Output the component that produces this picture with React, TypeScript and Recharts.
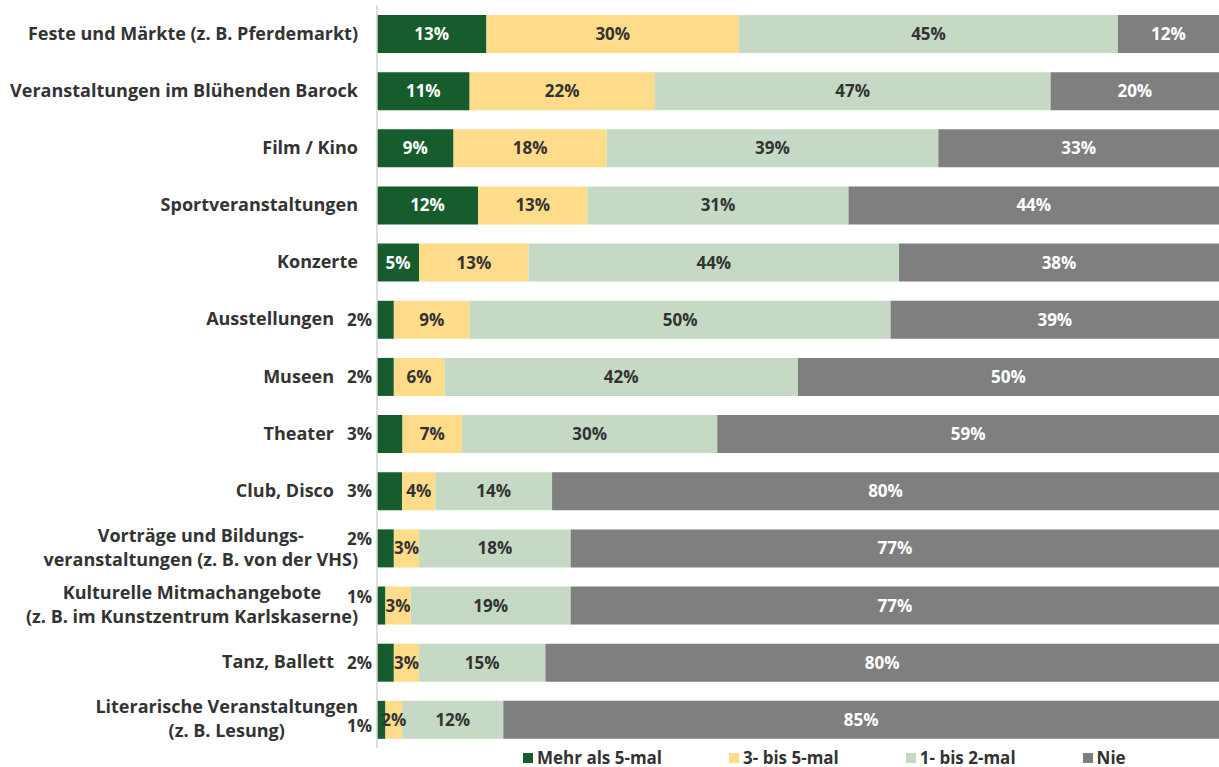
import { BarChart, Bar, XAxis, YAxis, Legend, LabelList } from 'recharts';

// ─── Data ────────────────────────────────────────────────────────────────────

const categories = [
  'Feste und Märkte (z. B. Pferdemarkt)',
  'Veranstaltungen im Blühenden Barock',
  'Film / Kino',
  'Sportveranstaltungen',
  'Konzerte',
  'Ausstellungen',
  'Museen',
  'Theater',
  'Club, Disco',
  'Vorträge und Bildungs-\nveranstaltungen (z. B. von der VHS)',
  'Kulturelle Mitmachangebote\n(z. B. im Kunstzentrum Karlskaserne)',
  'Tanz, Ballett',
  'Literarische Veranstaltungen\n(z. B. Lesung)',
];

const mehrAls5 = [13, 11, 9, 12, 5, 2, 2, 3, 3, 2, 1, 2, 1];
const dreiBis5 = [30, 22, 18, 13, 13, 9, 6, 7, 4, 3, 3, 3, 2];
const einBis2 = [45, 47, 39, 31, 44, 50, 42, 30, 14, 18, 19, 15, 12];
const nie = [12, 20, 33, 44, 38, 39, 50, 59, 80, 77, 77, 80, 85];

const seriesNames = ['Mehr als 5-mal', '3- bis 5-mal', '1- bis 2-mal', 'Nie'];
const seriesValues = [mehrAls5, dreiBis5, einBis2, nie];

// ─── Style ───────────────────────────────────────────────────────────────────

const COLORS = ['#165c2d', '#fedc8a', '#c5d9c5', '#7f7f7f'];
const LABEL_COLORS = ['#ffffff', '#333333', '#333333', '#ffffff'];
const FONT = '"Open Sans", sans-serif';
const TEXT = '#333333';
const AXIS_X = 377;
const OUTSIDE_LIMIT = 5;
const CAT_SIZE = 18;
const VAL_SIZE = 17;

const rows = categories.map((name, i) => ({
  name,
  s0: mehrAls5[i],
  s1: dreiBis5[i],
  s2: einBis2[i],
  s3: nie[i],
}));

let measureCtx: CanvasRenderingContext2D | null = null;
function textWidth(t: string, size: number) {
  if (!measureCtx) measureCtx = document.createElement('canvas').getContext('2d');
  if (!measureCtx) return t.length * size * 0.6;
  measureCtx.font = `bold ${size}px "Open Sans"`;
  return measureCtx.measureText(t).width;
}

// ─── Category tick ───────────────────────────────────────────────────────────

function CategoryTick(props: any) {
  const { y, payload, index } = props;
  const lines = String(payload.value).split('\n');
  const hasOutside = mehrAls5[index] < OUTSIDE_LIMIT;
  if (lines.length === 1) {
    const right = hasOutside ? AXIS_X - 43 : AXIS_X - 19;
    return (
      <text x={right} y={y} dy={6} textAnchor="end" fontFamily={FONT} fontWeight={700} fontSize={CAT_SIZE} fill={TEXT}>
        {lines[0]}
      </text>
    );
  }
  const maxW = Math.max(...lines.map((l) => textWidth(l, CAT_SIZE)));
  const cx = AXIS_X - 19 - maxW / 2;
  const lh = 24;
  const top = y - ((lines.length - 1) * lh) / 2;
  return (
    <g>
      {lines.map((l, i) => (
        <text key={i} x={cx} y={top + i * lh} dy={6} textAnchor="middle" fontFamily={FONT} fontWeight={700} fontSize={CAT_SIZE} fill={TEXT}>
          {l}
        </text>
      ))}
    </g>
  );
}

// ─── Value labels ────────────────────────────────────────────────────────────

function makeLabel(series: number) {
  return function SegmentLabel(props: any) {
    const { x, y, width, height, index } = props;
    const value = seriesValues[series][index];
    const cy = Number(y) + Number(height) / 2;
    if (series === 0 && value < OUTSIDE_LIMIT) {
      // push the outside label away from the longer line of a two-line category
      const lines = categories[index].split('\n');
      let shift = 0;
      if (lines.length > 1) {
        shift = textWidth(lines[0], CAT_SIZE) > textWidth(lines[1], CAT_SIZE) ? 6 : -9;
      }
      return (
        <text x={AXIS_X - 5} y={cy + shift} dy={6} textAnchor="end" fontFamily={FONT} fontWeight={700} fontSize={VAL_SIZE} fill={TEXT}>
          {`${value}%`}
        </text>
      );
    }
    return (
      <text
        x={Number(x) + Number(width) / 2}
        y={cy}
        dy={6}
        textAnchor="middle"
        fontFamily={FONT}
        fontWeight={700}
        fontSize={VAL_SIZE}
        fill={LABEL_COLORS[series]}
      >
        {`${value}%`}
      </text>
    );
  };
}

// ─── Legend ──────────────────────────────────────────────────────────────────

function ChartLegend() {
  return (
    <div
      style={{
        display: 'flex',
        paddingLeft: 523,
        gap: 67,
        fontFamily: FONT,
        fontWeight: 700,
        fontSize: 17,
        color: TEXT,
        lineHeight: '19px',
      }}
    >
      {seriesNames.map((n, i) => (
        <div key={n} style={{ display: 'flex', alignItems: 'center', gap: 4 }}>
          <span style={{ width: 10, height: 10, background: COLORS[i], display: 'inline-block' }} />
          <span>{n}</span>
        </div>
      ))}
    </div>
  );
}

// ─── Main ────────────────────────────────────────────────────────────────────

export default function App() {
  return (
    <div style={{ position: 'absolute', left: 0, top: 0, background: '#fff' }}>
      <BarChart
        width={1219}
        height={767}
        data={rows}
        layout="vertical"
        stackOffset="expand"
        margin={{ top: 5, right: 0, bottom: 0, left: 0 }}
        barSize={38}
      >
        <XAxis type="number" domain={[0, 1]} hide />
        <YAxis
          type="category"
          dataKey="name"
          width={AXIS_X}
          axisLine={{ stroke: '#d4d4d4', strokeWidth: 1.5 }}
          tickLine={false}
          tick={<CategoryTick />}
          interval={0}
        />
        <Legend verticalAlign="bottom" height={19} content={<ChartLegend />} />
        {['s0', 's1', 's2', 's3'].map((k, i) => (
          <Bar key={k} dataKey={k} name={seriesNames[i]} stackId="a" fill={COLORS[i]} isAnimationActive={false}>
            <LabelList dataKey={k} content={makeLabel(i)} />
          </Bar>
        ))}
      </BarChart>
    </div>
  );
}
